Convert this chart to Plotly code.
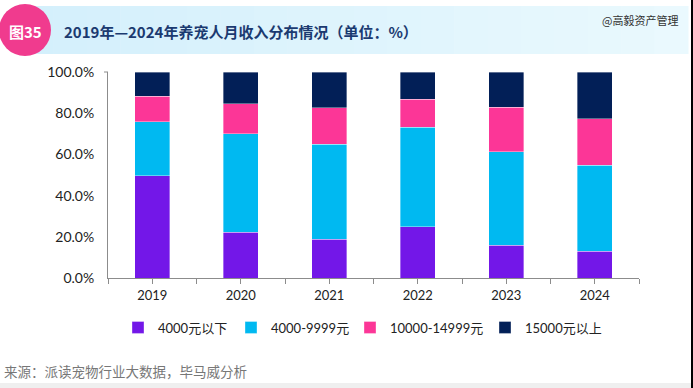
import plotly.graph_objects as go

years = ["2019", "2020", "2021", "2022", "2023", "2024"]
series_names = ["4000元以下", "4000-9999元", "10000-14999元", "15000元以上"]
below_4000 = [49.7, 22.3, 18.7, 24.8, 15.8, 12.9]
from_4000_9999 = [26.2, 47.7, 46.3, 48.5, 45.4, 41.8]
from_10000_14999 = [12.4, 14.6, 17.7, 13.4, 21.6, 22.5]
above_15000 = [11.7, 15.4, 17.3, 13.3, 17.2, 22.8]
colors = ["#7317E8", "#00B9F1", "#FC3697", "#021F57"]

W, H = 693, 388
FONT = "Lato, 'Noto Sans CJK SC', sans-serif"
CJK = "'Noto Sans CJK SC', sans-serif"

L, R, T, B = 108, 54, 72, 110
PW, PH = W - L - R, H - T - B


def px(x):
    return (x - L) / PW


def py(y):
    return (H - B - y) / PH


xpos = list(range(len(years)))
legend_x = [118, 231, 350, 485]
fig = go.Figure()
for i, (name, vals, c) in enumerate(zip(series_names, [below_4000, from_4000_9999, from_10000_14999, above_15000], colors)):
    fig.add_trace(go.Bar(x=xpos, y=vals, name=name,
                         marker=dict(color=c, line=dict(width=0.6, color="rgba(255,255,255,0.6)")),
                         width=0.4, legend="legend" if i == 0 else "legend%d" % (i + 1)))

legend_common = dict(orientation="h", xanchor="left", yanchor="middle", y=py(327.5),
                     font=dict(family=FONT, size=13, color="#222222"), itemwidth=30,
                     bgcolor="rgba(0,0,0,0)", borderwidth=0)
fig.update_layout(
    width=W, height=H, barmode="stack",
    margin=dict(l=L, r=R, t=T, b=B, autoexpand=False),
    paper_bgcolor="white", plot_bgcolor="white",
    font=dict(family=FONT, size=13, color="#333333"),
    showlegend=True,
    legend=dict(x=px(legend_x[0]), **legend_common),
    legend2=dict(x=px(legend_x[1]), **legend_common),
    legend3=dict(x=px(legend_x[2]), **legend_common),
    legend4=dict(x=px(legend_x[3]), **legend_common),
)
fig.update_xaxes(range=[-0.5, 5.5], tickmode="array", tickvals=xpos, ticktext=years, automargin=False,
                 showline=True, linecolor="#8c8c8c", linewidth=1, showgrid=False, zeroline=False,
                 ticks="outside", ticklen=5, tickcolor="#8c8c8c",
                 minor=dict(tickmode="array", tickvals=[i - 0.5 for i in range(len(years) + 1)],
                            ticks="outside", ticklen=5, tickcolor="#8c8c8c"),
                 tickfont=dict(family=FONT, size=13, color="#222222"), fixedrange=True)
fig.update_yaxes(range=[0, 100], tickmode="linear", dtick=20, tickformat=".1f", ticksuffix="%", automargin=False,
                 showline=True, linecolor="#8c8c8c", linewidth=1, showgrid=False, zeroline=False,
                 ticks="", ticklabelstandoff=10, tickfont=dict(family=FONT, size=14, color="#222222"), fixedrange=True)

shapes = []
# header band gradient
n = 20
x0, x1 = 20, 688
c0 = (212, 240, 252)
c1 = (234, 249, 254)
for i in range(n):
    t = i / (n - 1)
    col = tuple(int(c0[k] + (c1[k] - c0[k]) * t) for k in range(3))
    shapes.append(dict(type="rect", xref="paper", yref="paper",
                       x0=px(x0 + (x1 - x0) * i / n), x1=px(x0 + (x1 - x0) * (i + 1) / n + 0.5),
                       y0=py(54), y1=py(6),
                       fillcolor="rgb(%d,%d,%d)" % col, line=dict(width=0), layer="below"))
# pink circle
cx, cy, r = 25, 30, 26
shapes.append(dict(type="circle", xref="paper", yref="paper",
                   x0=px(cx - r), x1=px(cx + r), y0=py(cy + r), y1=py(cy - r),
                   fillcolor="#F03B8E", line=dict(width=0)))
# bottom grey strip
shapes.append(dict(type="rect", xref="paper", yref="paper",
                   x0=px(0), x1=px(W), y0=py(H), y1=py(383),
                   fillcolor="#EFEFEF", line=dict(width=0), layer="below"))
# right black border
shapes.append(dict(type="rect", xref="paper", yref="paper",
                   x0=px(691), x1=px(W), y0=py(H), y1=py(0),
                   fillcolor="#000000", line=dict(width=0)))
# small cap at top of y axis
shapes.append(dict(type="line", xref="paper", yref="paper",
                   x0=px(104), x1=px(108), y0=1, y1=1, line=dict(color="#8c8c8c", width=1)))
fig.update_layout(shapes=shapes)

annotations = [
    dict(text="<b>图35</b>", x=px(cx), y=py(cy + 1), xref="paper", yref="paper", showarrow=False,
         xanchor="center", yanchor="middle", font=dict(family=CJK, size=15, color="white")),
    dict(text="<b>2019年—2024年养宠人月收入分布情况（单位：%）</b>", x=px(62), y=py(31), xref="paper", yref="paper",
         showarrow=False, xanchor="left", yanchor="middle", font=dict(family=CJK, size=15, color="#1B3A70")),
    dict(text="@高毅资产管理", x=px(680), y=py(20), xref="paper", yref="paper", showarrow=False,
         xanchor="right", yanchor="middle", font=dict(family=CJK, size=11, color="#333333")),
    dict(text="来源：派读宠物行业大数据，毕马威分析", x=px(2), y=py(371), xref="paper", yref="paper", showarrow=False,
         xanchor="left", yanchor="middle", font=dict(family=CJK, size=13.5, color="#777777")),
]
fig.update_layout(annotations=annotations)

fig.write_html("out.html", config={"displayModeBar": False},
               post_script="document.body.style.margin='0';document.body.style.overflow='hidden';")
